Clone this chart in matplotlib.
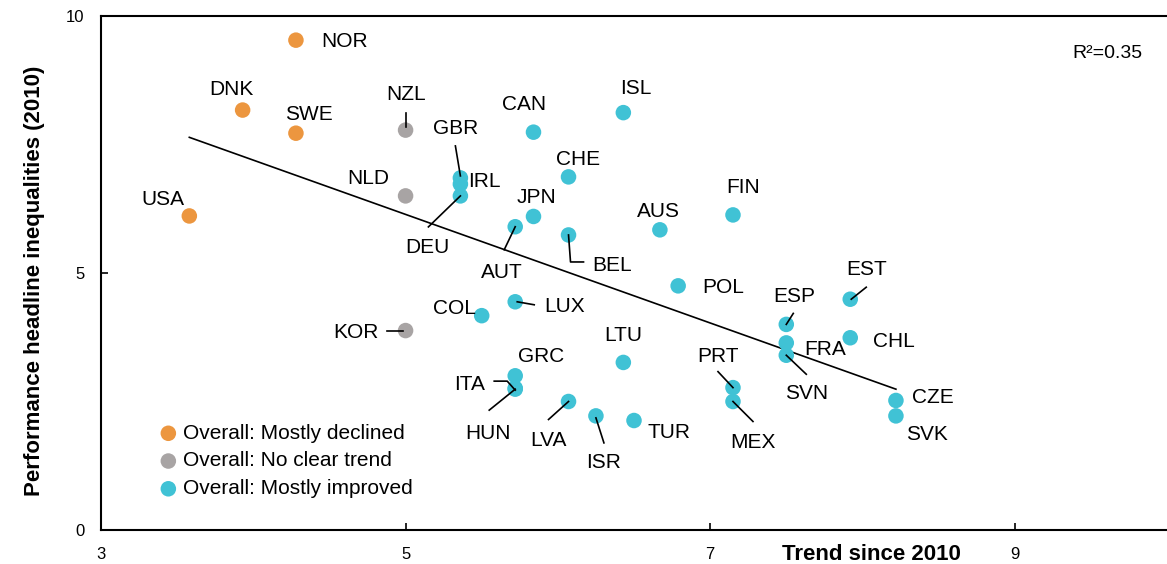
import numpy as np
import matplotlib
matplotlib.use('Agg')
import matplotlib.pyplot as plt
from matplotlib.lines import Line2D

# data
countries = ['NOR', 'DNK', 'SWE', 'USA', 'NZL', 'NLD', 'KOR',
             'GBR', 'IRL', 'DEU', 'CAN', 'ISL', 'CHE', 'FIN', 'JPN', 'AUT', 'BEL', 'AUS',
             'POL', 'COL', 'LUX', 'LTU', 'GRC', 'ITA', 'HUN', 'LVA', 'ISR', 'TUR',
             'PRT', 'MEX', 'EST', 'ESP', 'FRA', 'SVN', 'CHL', 'CZE', 'SVK']
trend = [4.28, 3.93, 4.28, 3.58, 5.00, 5.00, 5.00,
         5.36, 5.36, 5.36, 5.84, 6.43, 6.07, 7.15, 5.84, 5.72, 6.07, 6.67,
         6.79, 5.50, 5.72, 6.43, 5.72, 5.72, 5.72, 6.07, 6.25, 6.50,
         7.15, 7.15, 7.92, 7.50, 7.50, 7.50, 7.92, 8.22, 8.22]
ineq2010 = [9.53, 8.17, 7.72, 6.11, 7.78, 6.50, 3.88,
            6.85, 6.73, 6.50, 7.74, 8.12, 6.87, 6.13, 6.10, 5.90, 5.74, 5.84,
            4.75, 4.17, 4.44, 3.26, 3.00, 2.76, 2.74, 2.50, 2.22, 2.13,
            2.77, 2.50, 4.49, 4.00, 3.64, 3.40, 3.74, 2.52, 2.22]
group = ['dec', 'dec', 'dec', 'dec', 'none', 'none', 'none'] + ['imp'] * 30

groups = ['dec', 'none', 'imp']
group_labels = ['Overall: Mostly declined', 'Overall: No clear trend', 'Overall: Mostly improved']
group_colors = ['#EC963F', '#A8A4A4', '#40C2D5']

fit_slope = -1.056
fit_intercept = 11.42
r2_text = 'R\u00b2=0.35'

# label placement: (dx, dy, ha) in pixels from the dot, plus optional leader line
label_pos = {
    'NOR': (25, 0, 'left'), 'DNK': (-11, 22, 'center'), 'SWE': (13, 20, 'center'),
    'USA': (-26, 18, 'center'), 'NZL': (0, 37, 'center'), 'NLD': (-37, 19, 'center'),
    'GBR': (-5, 51, 'center'), 'IRL': (8, 4, 'left'), 'DEU': (-33, -50, 'center'),
    'CAN': (-9, 29, 'center'), 'ISL': (12, 26, 'center'), 'CHE': (10, 19, 'center'),
    'FIN': (10, 29, 'center'), 'JPN': (3, 20, 'center'), 'AUT': (-13, -44, 'center'),
    'BEL': (44, -29, 'center'), 'AUS': (-1, 20, 'center'), 'POL': (24, 0, 'left'),
    'COL': (-27, 9, 'center'), 'LUX': (29, -3, 'left'), 'KOR': (-50, 0, 'center'),
    'LTU': (0, 28, 'center'), 'GRC': (26, 21, 'center'), 'ITA': (-46, 5, 'center'),
    'HUN': (-27, -43, 'center'), 'LVA': (-20, -37, 'center'), 'ISR': (8, -45, 'center'),
    'TUR': (14, -10, 'left'), 'PRT': (-15, 33, 'center'), 'MEX': (20, -39, 'center'),
    'EST': (16, 31, 'center'), 'ESP': (8, 29, 'center'), 'FRA': (18, -5, 'left'),
    'SVN': (20, -37, 'center'), 'CHL': (23, -2, 'left'), 'CZE': (16, 4, 'left'),
    'SVK': (10, -17, 'left'),
}
leaders = {
    'NZL': [(0, 17), (0, 3)], 'GBR': [(-5, 32), (0, 2)], 'DEU': [(-32, -31), (0, 0)],
    'AUT': [(-11, -23), (0, 0)], 'BEL': [(0, 0), (2, -27), (15, -27)],
    'LUX': [(2, 0), (19, -3)], 'KOR': [(-19, 0), (-3, 0)],
    'ITA': [(-21, 7), (-8, 7), (0, -2)], 'HUN': [(-26, -21), (0, 0)],
    'LVA': [(-20, -18), (0, 0)], 'ISR': [(8, -27), (0, -2)], 'PRT': [(-15, 16), (0, 0)],
    'MEX': [(20, -20), (0, 0)], 'EST': [(16, 12), (1, 0)], 'ESP': [(7, 11), (0, 0)],
    'SVN': [(20, -19), (0, 0)],
}

plt.rcParams['font.family'] = ['Liberation Sans', 'DejaVu Sans']

fig = plt.figure(figsize=(11.67, 5.64), dpi=100)
ax = fig.add_axes([101 / 1167, 34 / 564, 1066 / 1167, 514 / 564])
ax.set_xlim(3, 10)
ax.set_ylim(0, 10)

x = np.array(trend)
y = np.array(ineq2010)
g = np.array(group)
for key, lab, col in zip(groups, group_labels, group_colors):
    m = g == key
    ax.scatter(x[m], y[m], s=125, color=col, edgecolors='none', label=lab, zorder=3)

xf = np.array([x.min(), x.max()])
ax.plot(xf, fit_intercept + fit_slope * xf, color='black', lw=1.2, zorder=2)

# labels and leader lines, placed in pixel offsets from each dot
to_data = ax.transData.inverted()
for name, xv, yv in zip(countries, trend, ineq2010):
    px, py = ax.transData.transform((xv, yv))
    dx, dy, ha = label_pos[name]
    tx, ty = to_data.transform((px + dx, py + dy - 7))
    ax.text(tx, ty, name, fontsize=15, ha=ha, va='baseline', zorder=4)
    if name in leaders:
        pts = to_data.transform([(px + a, py + b) for a, b in leaders[name]])
        ax.add_line(Line2D(pts[:, 0], pts[:, 1], color='black', lw=1.2, zorder=4))

fig.text(1143 / 1167, (564 - 58) / 564, r2_text, fontsize=14, ha='right', va='baseline')

ax.spines['right'].set_visible(False)
for s in ['left', 'bottom', 'top']:
    ax.spines[s].set_linewidth(1.5)
ax.set_xticks([3, 5, 7, 9])
ax.set_yticks([0, 5, 10])
ax.tick_params(direction='in', length=5, width=1.2, pad=12, labelsize=12)

ax.set_ylabel('Performance headline inequalities (2010)', fontsize=16, fontweight='bold')
ax.yaxis.set_label_coords(-0.053, 0.484)
fig.text(871 / 1167, 4 / 564, 'Trend since 2010', fontsize=16, fontweight='bold',
         ha='center', va='baseline')

leg = ax.legend(loc='center left', bbox_to_anchor=(160 / 1167, (564 - 461) / 564),
                bbox_transform=fig.transFigure, frameon=False, fontsize=15,
                handlelength=0.8, handletextpad=0.3, labelspacing=0.42, borderpad=0,
                borderaxespad=0)

fig.savefig('out.png', dpi=100)
